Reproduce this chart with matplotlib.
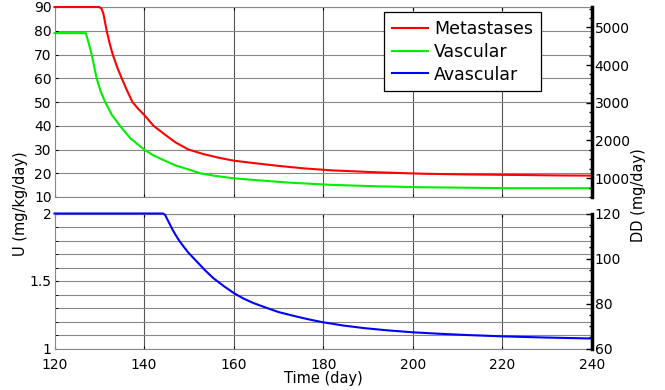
import numpy as np
import matplotlib
matplotlib.use("Agg")
import matplotlib.pyplot as plt
from matplotlib.ticker import MultipleLocator

# Metastases (top panel, U in mg/kg/day)
t_met = [120, 130.0, 130.5, 130.9, 131.65, 132.3, 133.0, 134.0, 135.0, 136.2, 137.4,
         138.7, 140.0, 142.1, 144.5, 147.0, 149.9, 153.2, 156.5, 160.0, 164.4,
         170, 176, 182.0, 192, 202.1, 212, 222.2, 232, 240]
u_met = [90, 90, 89.3, 87.3, 80.0, 74.8, 70.0, 64.6, 60.0, 54.8, 50.0,
         47.1, 44.6, 40.0, 36.5, 33.0, 30.0, 28.1, 26.6, 25.3, 24.3,
         23.1, 22.0, 21.2, 20.4, 19.8, 19.5, 19.3, 19.1, 19.0]

# Vascular (top panel)
t_vas = [120, 127.0, 127.6, 128.3, 129.4, 130.3, 131.3, 132.8, 134.6, 137.0,
         140.0, 142.0, 144.3, 147.0, 150.3, 152.5, 155.5, 159.9, 164.4, 172,
         182.0, 192, 202.1, 212, 222.2, 232, 240]
u_vas = [79, 79, 75.0, 70.0, 60.0, 54.5, 50.0, 44.6, 40.0, 34.6,
         30.0, 27.6, 25.6, 23.3, 21.4, 20.0, 19.0, 17.9, 17.2, 16.1,
         15.1, 14.5, 14.1, 13.9, 13.7, 13.7, 13.7]

# Avascular (bottom panel)
t_avs = [120, 144.2, 144.7, 145.0, 145.6, 146.2, 147.0, 148.0, 149.8, 151.8,
         153.6, 155.5, 157.8, 160.1, 162.2, 164.3, 166.6, 170, 174.1, 177,
         180.0, 184.5, 189.4, 194.5, 200, 206, 212, 220, 230, 240]
u_avs = [2.0, 2.0, 1.990, 1.969, 1.930, 1.890, 1.843, 1.791, 1.713, 1.643,
         1.580, 1.520, 1.462, 1.409, 1.370, 1.338, 1.310, 1.270, 1.236, 1.214,
         1.194, 1.170, 1.150, 1.134, 1.120, 1.109, 1.100, 1.090, 1.081, 1.074]

labels = ["Metastases", "Vascular", "Avascular"]
colors = ["#ff0000", "#00ee00", "#0000ff"]

x_ticks = [120, 140, 160, 180, 200, 220, 240]

fig = plt.figure(figsize=(6.65, 3.9), dpi=100)
L, R = 54.5 / 665, 592 / 665
ax1 = fig.add_axes([L, 1 - 197 / 390, R - L, 190 / 390])
ax2 = fig.add_axes([L, 1 - 348.5 / 390, R - L, 135 / 390])

grid_c = "#888888"

for ax in (ax1, ax2):
    ax.set_xlim(120, 240)
    ax.set_xticks(x_ticks)
    for s in ["left", "top", "bottom"]:
        ax.spines[s].set_color(grid_c)
        ax.spines[s].set_linewidth(0.8)
    ax.spines["right"].set_visible(False)
    ax.tick_params(direction="in", length=2.5, width=0.8, top=True, labelsize=10, pad=2)
    ax.tick_params(axis="x", pad=6.5)
    for x in x_ticks[1:-1]:
        ax.axvline(x, color="#555555", lw=0.8, zorder=0)

ax1.tick_params(labelbottom=False)

l1, = ax1.plot(t_met, u_met, color=colors[0], lw=1.5, clip_on=False, zorder=3)
l2, = ax1.plot(t_vas, u_vas, color=colors[1], lw=1.5, clip_on=False, zorder=3)
ax1.set_ylim(10, 90)
ax1.set_yticks(np.arange(10, 91, 10))
ax1.yaxis.grid(True, color=grid_c, lw=0.8)

l3, = ax2.plot(t_avs, u_avs, color=colors[2], lw=1.5, clip_on=False, zorder=3)
ax2.set_ylim(1, 2)
ax2.set_yticks([1, 1.5, 2])
ax2.set_yticklabels(["1", "1.5", "2"])
ax2.yaxis.set_minor_locator(MultipleLocator(0.1))
ax2.tick_params(axis="y", which="minor", direction="in", length=2)
ax2.yaxis.grid(True, which="both", color=grid_c, lw=0.8)

# right axes (DD)
r1 = ax1.twinx()
r1.set_ylim(500, 5540)
r1.set_yticks([1000, 2000, 3000, 4000, 5000])
r1.yaxis.set_minor_locator(MultipleLocator(250))
r2 = ax2.twinx()
r2.set_ylim(60, 120)
r2.set_yticks([60, 80, 100, 120])
r2.yaxis.set_minor_locator(MultipleLocator(5))
for r in (r1, r2):
    for s in ["left", "top", "bottom"]:
        r.spines[s].set_visible(False)
    r.spines["right"].set_linewidth(2.5)
    r.spines["right"].set_color("black")
    r.tick_params(axis="y", which="major", direction="in", length=4, width=1, labelsize=10, pad=2)
    r.tick_params(axis="y", which="minor", direction="in", length=2.5, width=1)

leg = ax1.legend([l1, l2, l3], labels, loc="upper right", bbox_to_anchor=(0.905, 0.972),
                 borderaxespad=0, fontsize=12.5, fancybox=False, framealpha=1,
                 handlelength=2.1, labelspacing=0.27, handletextpad=0.35,
                 borderpad=0.45)
leg.get_frame().set_edgecolor("black")
leg.get_frame().set_linewidth(0.9)
leg.set_zorder(5)

ax2.set_xticklabels([str(x) for x in x_ticks])
fig.text(323 / 665, 1 - 378.5 / 390, "Time (day)", ha="center", va="center", fontsize=10.5)
fig.text(21 / 665, 1 - 204 / 390, "U (mg/kg/day)", ha="center", va="center",
         rotation=90, fontsize=10.5)
fig.text(639 / 665, 1 - 195 / 390, "DD (mg/day)", ha="center", va="center",
         rotation=90, fontsize=10.5)

fig.savefig("out.png", dpi=100)
